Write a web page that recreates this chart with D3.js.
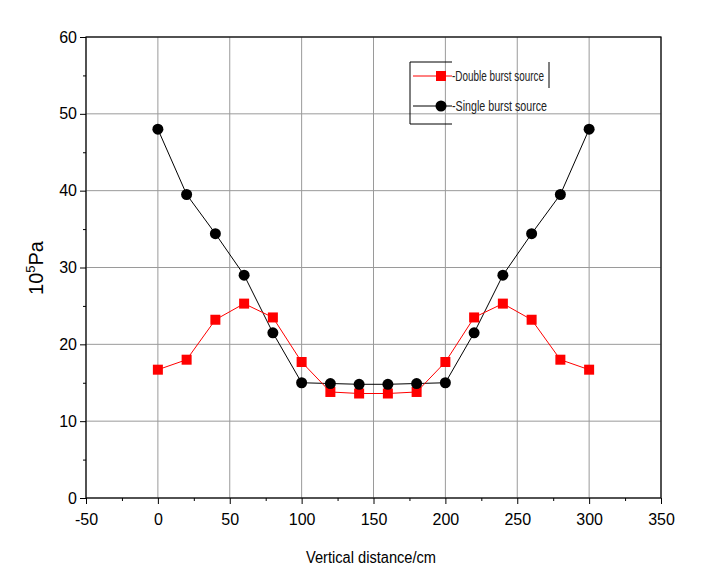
<!DOCTYPE html><html><head><meta charset="utf-8"><script src="https://cdn.jsdelivr.net/npm/d3@7"></script>
<style>body{margin:0;background:#fff}</style></head><body><svg id="c" width="718" height="585"></svg>
<script>
const xs=[0,20,40,60,80,100,120,140,160,180,200,220,240,260,280,300];
const single=[48,39.5,34.4,29,21.5,15,14.9,14.8,14.8,14.9,15,21.5,29,34.4,39.5,48];
const dbl=[16.7,18,23.2,25.3,23.5,17.7,13.8,13.6,13.6,13.8,17.7,23.5,25.3,23.2,18,16.7];
const xTicks=[-50,0,50,100,150,200,250,300,350];
const yTicks=[0,10,20,30,40,50,60];
const svg=d3.select("#c");
const x=d3.scaleLinear().domain([-50,350]).range([86,661]);
const y=d3.scaleLinear().domain([0,60]).range([498,37]);
const g=svg.append("g");
xTicks.forEach(t=>g.append("line").attr("x1",x(t)).attr("x2",x(t)).attr("y1",37).attr("y2",498).attr("stroke","#9a9a9a"));
yTicks.forEach(t=>g.append("line").attr("x1",86).attr("x2",661).attr("y1",y(t)).attr("y2",y(t)).attr("stroke","#9a9a9a"));
g.append("rect").attr("x",86).attr("y",37).attr("width",575).attr("height",461).attr("fill","none").attr("stroke","#000").attr("stroke-width",1.2);
const xa=svg.append("g").attr("transform","translate(0,498)").call(d3.axisBottom(x).tickValues(xTicks).tickSize(6).tickSizeOuter(0).tickFormat(d=>String(d)));
svg.append("g").attr("transform","translate(0,498)").call(d3.axisBottom(x).tickValues(d3.range(-25,350,50)).tickSize(3).tickFormat(""));
const ya=svg.append("g").attr("transform","translate(86,0)").call(d3.axisLeft(y).tickValues(yTicks).tickSize(6).tickSizeOuter(0));
svg.append("g").attr("transform","translate(86,0)").call(d3.axisLeft(y).tickValues(d3.range(5,60,10)).tickSize(3).tickFormat(""));
svg.selectAll(".domain").remove();
svg.selectAll(".tick text").attr("font-family","Liberation Sans, Arial").attr("font-size",16).attr("fill","#000");
xa.selectAll(".tick text").attr("dy","1.1em");
const line=d3.line().x((d,i)=>x(xs[i])).y(d=>y(d));
svg.append("path").datum(single).attr("d",line).attr("fill","none").attr("stroke","#000").attr("stroke-width",1);
svg.append("path").datum(dbl).attr("d",line).attr("fill","none").attr("stroke","#ff0000").attr("stroke-width",1);
svg.selectAll(".sq").data(dbl).enter().append("rect").attr("x",(d,i)=>x(xs[i])-5).attr("y",d=>y(d)-5).attr("width",10).attr("height",10).attr("fill","#ff0000");
svg.selectAll(".ci").data(single).enter().append("circle").attr("cx",(d,i)=>x(xs[i])).attr("cy",d=>y(d)).attr("r",5.5).attr("fill","#000");
// legend
const L=svg.append("g");
L.append("path").attr("d","M452,62 L410,62 L410,124 L452,124").attr("fill","none").attr("stroke","#000");
L.append("line").attr("x1",549).attr("x2",549).attr("y1",62).attr("y2",88).attr("stroke","#000");
L.append("line").attr("x1",413).attr("x2",452).attr("y1",76).attr("y2",76).attr("stroke","#ff0000");
L.append("rect").attr("x",436).attr("y",71).attr("width",10).attr("height",10).attr("fill","#ff0000");
L.append("line").attr("x1",413).attr("x2",452).attr("y1",106).attr("y2",106).attr("stroke","#000");
L.append("circle").attr("cx",441).attr("cy",106).attr("r",5.5).attr("fill","#000");
L.append("text").attr("x",452).attr("y",81).text("-Double burst source").attr("font-family","Liberation Sans").attr("font-size",14).attr("fill","#222").attr("textLength",92).attr("lengthAdjust","spacingAndGlyphs");
L.append("text").attr("x",452).attr("y",111).text("-Single burst source").attr("font-family","Liberation Sans").attr("font-size",15).attr("fill","#222").attr("textLength",95).attr("lengthAdjust","spacingAndGlyphs");
svg.append("text").attr("x",306).attr("y",563).attr("font-family","Liberation Sans").attr("font-size",16).attr("textLength",130).attr("lengthAdjust","spacingAndGlyphs").text("Vertical distance/cm");
const yl=svg.append("text").attr("transform","translate(43,268) rotate(-90)").attr("text-anchor","middle").attr("font-family","Liberation Sans, Arial").attr("font-size",20);
yl.append("tspan").text("10");yl.append("tspan").attr("font-size",13).attr("dy",-8).text("5");yl.append("tspan").attr("dy",8).text("Pa");
</script></body></html>
